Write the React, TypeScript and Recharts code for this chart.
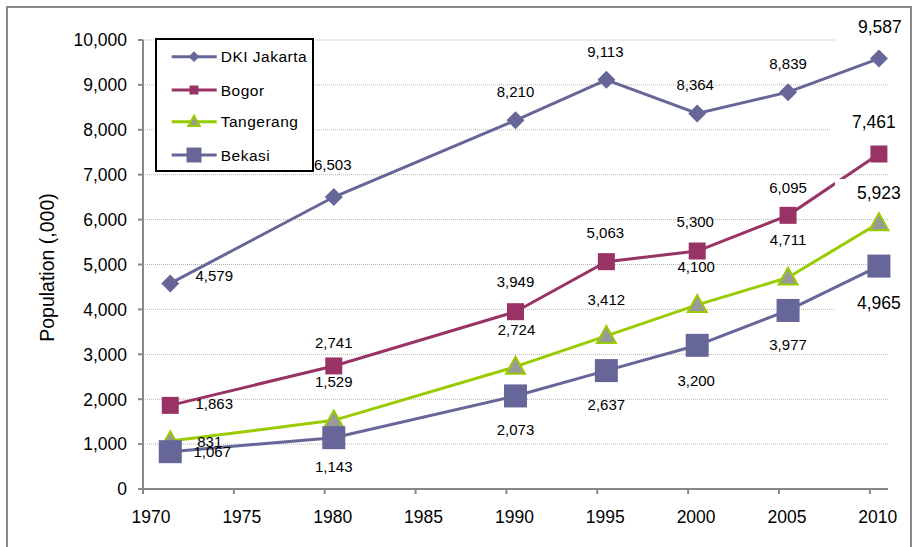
import React from 'react';
import { LineChart, Line, XAxis, YAxis, CartesianGrid, LabelList, Label } from 'recharts';

// Census years and population (thousands) per area
const YEARS = [1971, 1980, 1990, 1995, 2000, 2005, 2010];
const DKI_JAKARTA = [4579, 6503, 8210, 9113, 8364, 8839, 9587];
const BOGOR = [1863, 2741, 3949, 5063, 5300, 6095, 7461];
const TANGERANG = [1067, 1529, 2724, 3412, 4100, 4711, 5923];
const BEKASI = [831, 1143, 2073, 2637, 3200, 3977, 4965];

const X_TICKS = [1970, 1975, 1980, 1985, 1990, 1995, 2000, 2005, 2010];
const Y_TICKS = [0, 1000, 2000, 3000, 4000, 5000, 6000, 7000, 8000, 9000, 10000];

const FONT = '"Liberation Sans", Arial, sans-serif';
const fmt = (v: number) => v.toLocaleString('en-US');

// Each census point sits in the middle of its year on the time axis
const data = YEARS.map((year, i) => ({
  t: year + 0.5,
  dki: DKI_JAKARTA[i],
  bogor: BOGOR[i],
  tangerang: TANGERANG[i],
  bekasi: BEKASI[i],
}));

// Label centre offsets (dx, dy) from each point, per series
const LABEL_OFFSETS: Record<string, [number, number][]> = {
  dki: [[44, -8], [-1, -32], [0, -29], [-1, -28], [-2, -28.5], [0, -29], [1, -31.5]],
  bogor: [[44, -2], [0, -23], [0, -30], [-1, -29], [-2, -29], [0, -28], [-5, -32]],
  tangerang: [[42, 10.6], [0, -38.6], [1, -36.7], [0, -36], [-1, -38], [0, -37.5], [0, -30]],
  bekasi: [[39.5, -10], [0, 29], [0, 34], [0, 34], [-1, 35], [0, 34.6], [0, 37]],
};

type MarkerKind = 'diamond' | 'square' | 'triangle' | 'bigSquare';

const SERIES: { key: string; name: string; color: string; marker: MarkerKind }[] = [
  { key: 'dki', name: 'DKI Jakarta', color: '#666699', marker: 'diamond' },
  { key: 'bogor', name: 'Bogor', color: '#993366', marker: 'square' },
  { key: 'tangerang', name: 'Tangerang', color: '#99CC00', marker: 'triangle' },
  { key: 'bekasi', name: 'Bekasi', color: '#666699', marker: 'bigSquare' },
];

function Marker({ kind, cx, cy, color, scale = 1 }: { kind: MarkerKind; cx: number; cy: number; color: string; scale?: number }) {
  if (kind === 'diamond') {
    const r = 9 * scale;
    return <polygon points={`${cx},${cy - r} ${cx + r},${cy} ${cx},${cy + r} ${cx - r},${cy}`} fill={color} />;
  }
  if (kind === 'square' || kind === 'bigSquare') {
    const s = (kind === 'square' ? 17 : 23) * scale;
    return <rect x={cx - s / 2} y={cy - s / 2} width={s} height={s} fill={color} />;
  }
  const w = 19 * scale;
  const h = 17 * scale;
  return (
    <polygon
      points={`${cx},${cy - h * 0.58} ${cx + w / 2},${cy + h * 0.42} ${cx - w / 2},${cy + h * 0.42}`}
      fill="#999999"
      stroke={color}
      strokeWidth={2}
      strokeLinejoin="miter"
    />
  );
}

const makeDot = (kind: MarkerKind, color: string) => (p: any) => {
  if (p.cx == null || p.cy == null) return <g key={`d-${p.index}`} />;
  return <Marker key={`d-${p.index}`} kind={kind} cx={p.cx} cy={p.cy} color={color} />;
};

const LAST = YEARS.length - 1;

const makeLabel = (key: string) => (p: any) => {
  const { x, y, value, index } = p;
  if (x == null || y == null) return null;
  const [dx, dy] = LABEL_OFFSETS[key][index];
  const cx = x + dx;
  const cy = y + dy;
  const big = index === LAST;
  const size = big ? 17.5 : 15;
  return (
    <g key={`l-${key}-${index}`}>
      {big && <rect x={cx - 44} y={cy - 14} width={78} height={28} fill="#ffffff" />}
      <text
        x={cx}
        y={cy + size * 0.36}
        textAnchor="middle"
        fontFamily={FONT}
        fontSize={size}
        fill="#000000"
      >
        {fmt(value)}
      </text>
    </g>
  );
};

const XTick = (p: any) => (
  <text x={p.x + 8} y={p.y + 27} textAnchor="middle" fontFamily={FONT} fontSize={17.5} fill="#000000">
    {p.payload.value}
  </text>
);

const YTick = (p: any) => (
  <text x={p.x} y={p.y + 6.3} textAnchor="end" fontFamily={FONT} fontSize={17.5} fill="#000000">
    {fmt(p.payload.value)}
  </text>
);

function LegendBox() {
  const rows = [18.7, 52, 83.7, 117];
  return (
    <div
      style={{
        position: 'absolute',
        left: 155,
        top: 38,
        width: 159,
        height: 134,
        boxSizing: 'border-box',
        border: '2px solid #000000',
        background: '#ffffff',
      }}
    >
      <svg width={155} height={130} style={{ position: 'absolute', left: -2, top: -2, overflow: 'visible' }}>
        {SERIES.map((s, i) => {
          const y = rows[i];
          const scale = s.marker === 'diamond' ? 0.6 : s.marker === 'square' ? 0.53 : s.marker === 'triangle' ? 0.6 : 0.65;
          return (
            <g key={s.key}>
              <line x1={16.7} x2={61.7} y1={y} y2={y} stroke={s.color} strokeWidth={3} />
              <Marker kind={s.marker} cx={39} cy={y} color={s.color} scale={scale} />
              <text x={65.7} y={y + 5.5} fontFamily={FONT} fontSize={15.5} letterSpacing={0.5} fill="#000000">
                {s.name}
              </text>
            </g>
          );
        })}
      </svg>
    </div>
  );
}

export default function App() {
  return (
    <div style={{ position: 'absolute', left: 0, top: 0, width: 916, height: 547, overflow: 'hidden', background: '#ffffff' }}>
      <LineChart width={916} height={547} data={data} margin={{ top: 40, right: 28, bottom: 0, left: 0 }}>
        <CartesianGrid horizontal vertical={false} stroke="#b3b3b3" strokeDasharray="1 1" />
        <XAxis
          dataKey="t"
          type="number"
          domain={[1970, 2011]}
          ticks={X_TICKS}
          interval={0}
          height={58}
          stroke="#888888"
          strokeWidth={2}
          tickSize={5}
          tickMargin={2}
          tick={XTick}
        />
        <YAxis
          type="number"
          domain={[0, 10000]}
          ticks={Y_TICKS}
          interval={0}
          width={143}
          stroke="#888888"
          strokeWidth={2}
          tickSize={5}
          tickMargin={11}
          tick={YTick}
        >
          <Label
            content={(p: any) => {
              const vb = p.viewBox;
              const cx = 47;
              const cy = vb.y + vb.height / 2 + 3;
              return (
                <text
                  x={cx}
                  y={cy}
                  transform={`rotate(-90 ${cx} ${cy})`}
                  textAnchor="middle"
                  dominantBaseline="central"
                  fontFamily={FONT}
                  fontSize={19.5}
                  fill="#000000"
                >
                  Population (,000)
                </text>
              );
            }}
          />
        </YAxis>
        {SERIES.map((s) => (
          <Line
            key={s.key}
            dataKey={s.key}
            name={s.name}
            stroke={s.color}
            strokeWidth={3}
            dot={makeDot(s.marker, s.color)}
            activeDot={false}
            isAnimationActive={false}
          >
            <LabelList dataKey={s.key} content={makeLabel(s.key)} />
          </Line>
        ))}
      </LineChart>
      <LegendBox />
      <div
        style={{
          position: 'absolute',
          left: 6,
          top: 6,
          width: 906,
          height: 560,
          boxSizing: 'border-box',
          border: '2px solid #8a8a8a',
          pointerEvents: 'none',
        }}
      />
    </div>
  );
}
